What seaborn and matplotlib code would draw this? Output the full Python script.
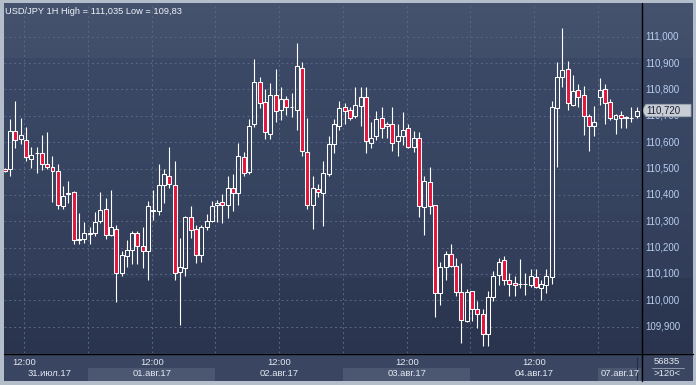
import numpy as np
import matplotlib
matplotlib.use("Agg")
import matplotlib.pyplot as plt
from matplotlib.patches import Polygon
from matplotlib.lines import Line2D
import seaborn as sns

# hourly USD/JPY candles, 31.07.17 08:00 .. 07.08.17 07:00 (120 bars)
opens = [110.500, 110.497, 110.643, 110.613, 110.609, 110.537, 110.559, 110.559, 110.518, 110.506,
         110.491, 110.358, 110.402, 110.411, 110.229, 110.233, 110.252, 110.256, 110.301, 110.347,
         110.248, 110.271, 110.104, 110.168, 110.191, 110.256, 110.206, 110.187, 110.340, 110.339,
         110.438, 110.473, 110.438, 110.106, 110.123, 110.316, 110.271, 110.172, 110.278, 110.301,
         110.362, 110.373, 110.362, 110.426, 110.407, 110.544, 110.486, 110.668, 110.829, 110.753,
         110.632, 110.780, 110.721, 110.765, 110.734, 110.721, 110.882, 110.563, 110.362, 110.421,
         110.407, 110.480, 110.594, 110.661, 110.734, 110.723, 110.699, 110.738, 110.772, 110.597,
         110.624, 110.692, 110.660, 110.670, 110.605, 110.624, 110.654, 110.582, 110.616, 110.354,
         110.449, 110.362, 110.028, 110.126, 110.176, 110.130, 110.031, 109.921, 110.035, 109.967,
         109.948, 109.872, 110.012, 110.096, 110.153, 110.077, 110.066, 110.062, 110.062, 110.058,
         110.089, 110.047, 110.058, 110.089, 110.730, 110.848, 110.878, 110.742, 110.799, 110.780,
         110.700, 110.662, 110.772, 110.802, 110.753, 110.688, 110.703, 110.692, 110.692, 110.700]
highs = [110.503, 110.686, 110.758, 110.690, 110.656, 110.580, 110.581, 110.629, 110.640, 110.549,
         110.518, 110.435, 110.454, 110.414, 110.330, 110.296, 110.277, 110.334, 110.409, 110.390,
         110.420, 110.287, 110.186, 110.230, 110.264, 110.264, 110.278, 110.377, 110.419, 110.518,
         110.499, 110.580, 110.530, 110.238, 110.318, 110.359, 110.287, 110.287, 110.329, 110.377,
         110.380, 110.405, 110.473, 110.480, 110.595, 110.564, 110.689, 110.914, 110.849, 110.803,
         110.825, 110.878, 110.810, 110.775, 110.785, 110.975, 110.906, 110.690, 110.470, 110.442,
         110.530, 110.625, 110.686, 110.758, 110.749, 110.734, 110.810, 110.810, 110.810, 110.677,
         110.719, 110.734, 110.676, 110.735, 110.670, 110.716, 110.670, 110.644, 110.639, 110.473,
         110.504, 110.363, 110.147, 110.188, 110.215, 110.162, 110.143, 110.044, 110.037, 109.997,
         109.967, 110.035, 110.112, 110.162, 110.169, 110.105, 110.094, 110.158, 110.105, 110.120,
         110.120, 110.077, 110.120, 110.757, 110.906, 111.035, 110.909, 110.853, 110.819, 110.813,
         110.708, 110.738, 110.842, 110.819, 110.765, 110.707, 110.718, 110.700, 110.734, 110.734]
lows = [110.488, 110.472, 110.578, 110.592, 110.528, 110.501, 110.482, 110.496, 110.497, 110.372,
        110.345, 110.345, 110.371, 110.214, 110.214, 110.216, 110.213, 110.245, 110.292, 110.231,
        110.245, 109.992, 110.094, 110.125, 110.137, 110.137, 110.121, 110.076, 110.306, 110.323,
        110.368, 110.425, 110.076, 109.906, 110.091, 110.235, 110.142, 110.144, 110.267, 110.296,
        110.296, 110.292, 110.311, 110.338, 110.361, 110.471, 110.480, 110.657, 110.729, 110.611,
        110.611, 110.676, 110.683, 110.702, 110.697, 110.646, 110.547, 110.345, 110.269, 110.391,
        110.281, 110.471, 110.558, 110.646, 110.670, 110.685, 110.692, 110.661, 110.558, 110.577,
        110.609, 110.616, 110.616, 110.566, 110.547, 110.591, 110.578, 110.562, 110.315, 110.247,
        110.326, 109.937, 109.982, 110.078, 110.126, 110.018, 109.838, 109.919, 109.921, 109.895,
        109.825, 109.825, 109.997, 110.058, 110.058, 110.015, 110.015, 110.045, 110.019, 110.049,
        110.047, 110.001, 110.026, 110.061, 110.505, 110.809, 110.723, 110.738, 110.734, 110.627,
        110.566, 110.623, 110.742, 110.668, 110.685, 110.630, 110.653, 110.653, 110.676, 110.692]
closes = [110.492, 110.644, 110.609, 110.628, 110.544, 110.552, 110.557, 110.518, 110.505, 110.491,
          110.362, 110.397, 110.407, 110.229, 110.233, 110.256, 110.257, 110.297, 110.343, 110.248,
          110.278, 110.104, 110.172, 110.191, 110.257, 110.206, 110.187, 110.358, 110.343, 110.438,
          110.480, 110.440, 110.104, 110.126, 110.316, 110.267, 110.172, 110.278, 110.301, 110.358,
          110.371, 110.362, 110.426, 110.407, 110.548, 110.483, 110.661, 110.829, 110.749, 110.639,
          110.780, 110.719, 110.765, 110.734, 110.732, 110.890, 110.567, 110.362, 110.426, 110.411,
          110.483, 110.594, 110.670, 110.730, 110.719, 110.692, 110.742, 110.772, 110.605, 110.616,
          110.689, 110.654, 110.668, 110.597, 110.624, 110.647, 110.582, 110.616, 110.358, 110.453,
          110.358, 110.028, 110.126, 110.176, 110.130, 110.031, 109.925, 110.031, 109.967, 109.948,
          109.872, 110.012, 110.092, 110.145, 110.077, 110.062, 110.058, 110.063, 110.063, 110.092,
          110.050, 110.062, 110.092, 110.733, 110.848, 110.875, 110.749, 110.795, 110.772, 110.700,
          110.662, 110.677, 110.799, 110.749, 110.692, 110.703, 110.692, 110.694, 110.693, 110.719]

price_ticks = [109.9, 110.0, 110.1, 110.2, 110.3, 110.4, 110.5, 110.6, 110.7, 110.8, 110.9, 111.0]
time_labels = ["12:00", "12:00", "12:00", "12:00", "12:00"]
date_labels = ["31.июл.17", "01.авг.17", "02.авг.17", "03.авг.17", "04.авг.17", "07.авг.17"]
last_price = 110.720
title = "USD/JPY 1H High = 111,035 Low = 109,83"

sns.set_theme(style="dark")
plt.rcParams['font.family'] = ['Liberation Sans', 'DejaVu Sans']

W, H = 696, 385
fig = plt.figure(figsize=(W / 100, H / 100), dpi=100, facecolor='#b4bdca')


def px_axes(x0, y0, x1, y1):
    a = fig.add_axes([x0 / W, 1 - y1 / H, (x1 - x0) / W, (y1 - y0) / H])
    for s in a.spines.values():
        s.set_visible(False)
    a.tick_params(length=0, labelbottom=False, labelleft=False)
    return a


def bg_row(y):
    # stepped vertical gradient of the chart background
    stops = [(3, 58, '#46536f', '#414e6a'), (58, 213, '#3c4966', '#36435f'),
             (213, 278, '#35415d', '#323e59'), (278, 354, '#2e3953', '#2a344e')]
    for a, b, c0, c1 in stops:
        if a <= y < b:
            t = (y - a) / (b - a)
            c0 = np.array(matplotlib.colors.to_rgb(c0))
            c1 = np.array(matplotlib.colors.to_rgb(c1))
            return c0 + (c1 - c0) * t
    return np.array(matplotlib.colors.to_rgb('#2a344e'))


grad = np.array([bg_row(y) for y in range(3, 353)])[:, None, :]

n = len(opens)
x = np.arange(n)
xmin, xmax = -0.13, 119.8
ymin, ymax = 109.80, 111.128
grid_x = [3.68 + 12 * k for k in range(10)]

# main price panel
ax = px_axes(4, 3, 641, 353)
ax.imshow(grad, extent=[xmin, xmax, ymin, ymax], aspect='auto', zorder=0)
ax.set_xlim(xmin, xmax)
ax.set_ylim(ymin, ymax)
ax.set_xticks(grid_x)
ax.set_yticks(price_ticks)
ax.grid(True, color='#5a6886', linestyle=(0, (2, 3)), linewidth=0.7, zorder=1)

df_o = np.array(opens)
df_c = np.array(closes)
df_h = np.array(highs)
df_l = np.array(lows)
top = np.maximum(df_o, df_c)
bot = np.minimum(df_o, df_c)
bull = df_c >= df_o

ax.vlines(x, top, df_h, color='white', linewidth=0.8, zorder=3)
ax.vlines(x, df_l, bot, color='white', linewidth=0.8, zorder=3)
height = np.maximum(top - bot, 0.0006)
ax.bar(x[bull], height[bull], bottom=bot[bull], width=0.75, facecolor='none',
       edgecolor='white', linewidth=0.75, zorder=4)
ax.bar(x[~bull], height[~bull], bottom=bot[~bull], width=0.75, facecolor='#e3173e',
       edgecolor='white', linewidth=0.75, zorder=4)

fig.text(5 / W, 1 - 11 / H, title, ha='left', va='center', fontsize=6.7, color='#eef2f8')

# right price scale
ax_r = px_axes(641, 3, 693, 353)
ax_r.imshow(grad, extent=[0, 52, ymin, ymax], aspect='auto', zorder=0)
ax_r.set_xlim(0, 52)
ax_r.set_ylim(ymin, ymax)
for v in price_ticks:
    ax_r.text(4, v, f"{v:.3f}".replace('.', ','), ha='left', va='center',
              fontsize=7.0, color='#b8cfee', zorder=2)
hh = 0.0235
tag = Polygon([(1, last_price), (5, last_price + hh), (50, last_price + hh),
               (50, last_price - hh), (5, last_price - hh)], closed=True,
              facecolor='#c8cdd5', edgecolor='#9aa3b0', linewidth=0.6, zorder=3)
ax_r.add_patch(tag)
ax_r.text(5, last_price, f"{last_price:.3f}".replace('.', ','), ha='left', va='center',
          fontsize=7.0, color='#1c2233', zorder=4)

# time scale
ax_b = px_axes(4, 353, 641, 381)
ax_b.set_facecolor('#3a4661')
ax_b.set_xlim(xmin, xmax)
ax_b.set_ylim(28, 0)
for a, b in [(grid_x[1], grid_x[3]), (grid_x[5], grid_x[7]), (grid_x[9], xmax)]:
    ax_b.fill_between([a, b], 15, 28, color='#4b5771', linewidth=0, zorder=1)
for k, lab in enumerate(time_labels):
    ax_b.text(grid_x[2 * k], 9.5, lab, ha='center', va='center', fontsize=6.8, color='#e2e8f1')
date_x = [8.5, grid_x[2], grid_x[4], grid_x[6], grid_x[8]]
for px, lab in zip(date_x, date_labels[:-1]):
    ax_b.text(px, 20.5, lab, ha='center', va='center', fontsize=6.8, color='#e2e8f1')
ax_b.text(grid_x[9] + 0.45, 20.5, date_labels[-1], ha='left', va='center', fontsize=6.8,
          color='#e2e8f1', clip_on=True)
ax_b.vlines(119.1, 4, 28, color='#262e40', linewidth=0.8, zorder=2)

# corner cell
ax_c = px_axes(641, 353, 693, 381)
ax_c.set_facecolor('#3a4661')
ax_c.set_xlim(0, 52)
ax_c.set_ylim(28, 0)
ax_c.text(26, 8, "56835", ha='center', va='center', fontsize=6.8, color='#e2e8f1')
ax_c.plot([11, 43], [14.5, 14.5], color='#8d97a8', linewidth=0.7)
ax_c.text(26, 21, ">120<", ha='center', va='center', fontsize=6.8, color='#e2e8f1')

# panel separators
fig.add_artist(Line2D([4 / W, 693 / W], [1 - 353.5 / H, 1 - 353.5 / H], color='black', linewidth=1))
fig.add_artist(Line2D([641.5 / W, 641.5 / W], [1 - 3 / H, 1 - 381 / H], color='black', linewidth=1))

fig.savefig('out.png', dpi=100, facecolor=fig.get_facecolor())
